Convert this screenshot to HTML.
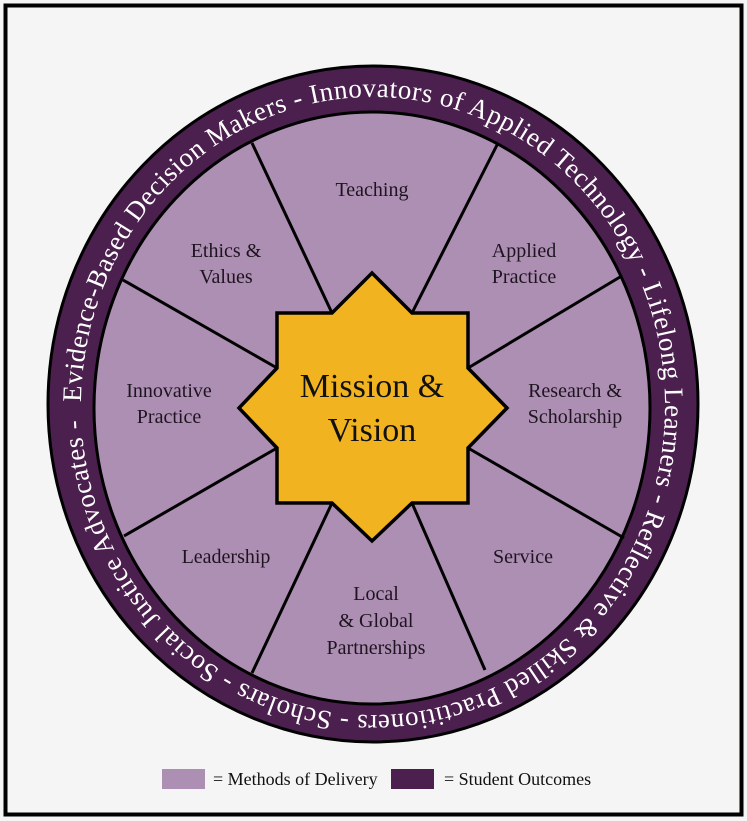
<!DOCTYPE html>
<html><head><meta charset="utf-8"><style>
html,body{margin:0;padding:0;background:#f5f5f5;}
svg{display:block;}
</style></head><body>
<svg width="747" height="821" viewBox="0 0 747 821" xmlns="http://www.w3.org/2000/svg" font-family="'Liberation Serif', serif">
<rect x="0" y="0" width="747" height="821" fill="#f5f5f5"/>
<rect x="5.5" y="5.5" width="736" height="809" fill="none" stroke="#000" stroke-width="4"/>
<ellipse cx="373" cy="404" rx="325" ry="338" fill="#4b1f4e" stroke="#000" stroke-width="3"/>
<ellipse cx="372" cy="408" rx="278" ry="296" fill="#ad8fb3" stroke="#000" stroke-width="3"/>
<defs>
<path id="ring" d="M 81 406 A 292 309 0 1 1 665 406 A 292 309 0 1 1 81 406"/>
</defs>
<text font-size="27" fill="#fff"><textPath href="#ring" startOffset="4" textLength="1870" lengthAdjust="spacing">Evidence-Based Decision Makers - Innovators of Applied Technology - Lifelong Learners - Reflective &amp; Skilled Practitioners - Scholars - Social Justice Advocates -</textPath></text>
<g stroke="#000" stroke-width="3">
<line x1="252" y1="143" x2="332" y2="313"/>
<line x1="497" y1="145" x2="412" y2="313"/>
<line x1="620" y1="277" x2="468" y2="368"/>
<line x1="123" y1="280" x2="277" y2="368"/>
<line x1="624" y1="538" x2="468" y2="448"/>
<line x1="124" y1="536" x2="277" y2="448"/>
<line x1="485" y1="670" x2="412" y2="503"/>
<line x1="252" y1="673" x2="332" y2="503"/>
</g>
<polygon points="372,273 412,313 468,313 468,368 507,408 468,448 468,503 412,503 372,541 332,503 277,503 277,448 239,408 277,368 277,313 332,313" fill="#f2b320" stroke="#000" stroke-width="3.5" stroke-linejoin="miter"/>
<g font-size="20" fill="#1e1420" text-anchor="middle">
<text x="372" y="196">Teaching</text>
<text x="226" y="257">Ethics &amp;</text><text x="226" y="283">Values</text>
<text x="524" y="257">Applied</text><text x="524" y="283">Practice</text>
<text x="169" y="397">Innovative</text><text x="169" y="423">Practice</text>
<text x="575" y="397">Research &amp;</text><text x="575" y="423">Scholarship</text>
<text x="226" y="563">Leadership</text>
<text x="523" y="563">Service</text>
<text x="376" y="600">Local</text><text x="376" y="627">&amp; Global</text><text x="376" y="654">Partnerships</text>
</g>
<g font-size="34" fill="#111" text-anchor="middle">
<text x="372" y="397">Mission &amp;</text>
<text x="372" y="441">Vision</text>
</g>
<rect x="162" y="769" width="43" height="20" fill="#ad8fb3"/>
<rect x="391" y="769" width="43" height="20" fill="#4b1f4e"/>
<g font-size="18" fill="#111">
<text x="213" y="785">= Methods of Delivery</text>
<text x="444" y="785">= Student Outcomes</text>
</g>
</svg>
</body></html>
